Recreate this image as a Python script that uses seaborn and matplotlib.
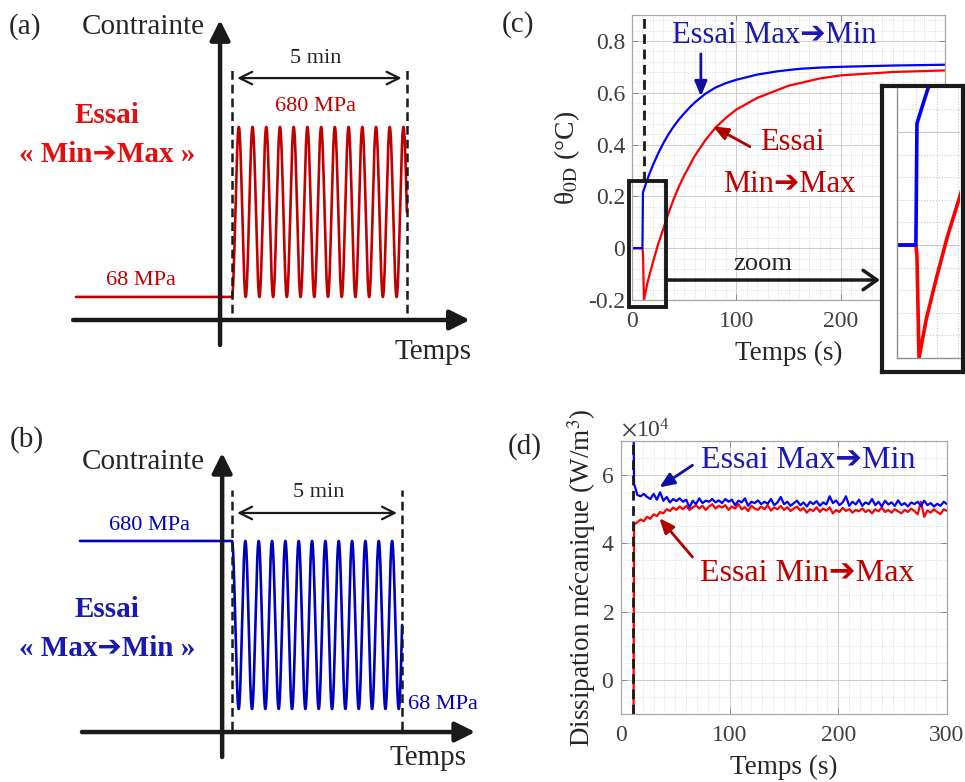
import numpy as np
import matplotlib
matplotlib.use('Agg')
import matplotlib.pyplot as plt
import seaborn as sns
from matplotlib.patches import Rectangle
from matplotlib.ticker import MultipleLocator

# ---------------- data ----------------
# schematic loading (a) / (b)
sig_low = 68        # MPa
sig_high = 680      # MPa
duration = 5        # min
n_cycles = 12.75    # drawn cycles (schematic only)

# (c) mean temperature theta_0D (degC) vs time (s)
t_maxmin_c = [0, 10, 10.5, 13, 16, 20, 25, 30, 35, 40, 45, 50, 55, 60, 70, 80, 90, 100,
              120, 140, 160, 180, 200, 250, 300]
th_maxmin = [0, 0, 0.215, 0.245, 0.28, 0.32, 0.365, 0.405, 0.44, 0.47, 0.497, 0.52, 0.542,
             0.562, 0.595, 0.62, 0.637, 0.65, 0.67, 0.683, 0.692, 0.697, 0.70, 0.705, 0.708]
t_minmax_c = [0, 10, 10.5, 11.5, 15, 20, 25, 30, 35, 40, 45, 50, 60, 70, 80, 90, 100, 120,
              150, 180, 200, 250, 300]
th_minmax = [0, 0, -0.02, -0.2, -0.13, -0.055, 0.015, 0.075, 0.135, 0.19, 0.238, 0.28, 0.355,
             0.415, 0.465, 0.503, 0.535, 0.58, 0.627, 0.655, 0.667, 0.68, 0.686]
c_yticklabels = ['-0.2', '0', '0.2', '0.4', '0.6', '0.8']

# (d) mechanical dissipation (x1e4 W/m3), sampled every 3 s from t = 12 s
t_step = 11.5
t_d = np.arange(12, 301, 3)
d_start_maxmin = 8.0
d_start_minmax = -1.5
d_maxmin = [5.75, 5.42, 5.38, 5.45, 5.36, 5.30, 5.45, 5.28, 5.50, 5.25,
            5.36, 5.20, 5.30, 5.24, 5.32, 5.22, 5.28, 5.05, 5.25, 5.15,
            5.32, 5.18, 5.25, 5.22, 5.30, 5.20, 5.26, 5.18, 5.30, 5.22,
            5.28, 5.12, 5.25, 5.20, 5.32, 5.10, 5.22, 5.18, 5.26, 5.15,
            5.22, 5.16, 5.30, 5.12, 5.20, 5.36, 5.15, 5.22, 5.10, 5.18,
            5.25, 5.12, 5.20, 5.08, 5.22, 5.15, 5.24, 5.10, 5.20, 5.14,
            5.38, 5.18, 5.26, 5.12, 5.20, 5.38, 5.10, 5.22, 5.14, 5.28,
            5.10, 5.20, 5.15, 5.30, 5.12, 5.22, 5.08, 5.25, 5.14, 5.20,
            5.10, 5.26, 5.12, 5.18, 5.08, 5.20, 5.15, 5.22, 5.10, 5.25,
            5.12, 5.18, 5.08, 5.16, 5.10, 5.22, 5.15]
d_minmax = [4.55, 4.62, 4.70, 4.65, 4.78, 4.72, 4.85, 4.80, 4.92, 4.88,
            5.00, 4.95, 5.05, 4.98, 5.08, 5.00, 5.10, 4.98, 5.05, 5.12,
            5.02, 5.10, 4.98, 5.08, 5.15, 5.02, 5.10, 5.05, 5.12, 4.98,
            5.08, 5.02, 5.15, 5.00, 5.06, 4.95, 5.10, 5.02, 4.98, 5.08,
            5.00, 5.12, 4.96, 5.05, 5.00, 5.10, 4.98, 5.06, 4.95, 5.02,
            5.08, 4.96, 5.04, 4.90, 5.00, 4.95, 5.06, 4.92, 5.02, 4.96,
            5.05, 4.88, 4.98, 4.92, 5.04, 4.95, 5.00, 4.90, 4.98, 4.94,
            5.02, 4.92, 4.98, 4.88, 5.00, 4.94, 5.05, 4.92, 4.98, 4.90,
            5.00, 4.94, 4.88, 4.98, 4.92, 5.02, 4.95, 4.85, 5.22, 4.78,
            4.96, 4.90, 5.00, 4.92, 4.86, 5.00, 4.95]

# ---------------- style ----------------
sns.set_theme(style='white')
plt.rcParams['font.family'] = ['Liberation Serif', 'DejaVu Sans']
plt.rcParams['mathtext.fontset'] = 'stix'

RED = '#c00000'
RED_TXT = '#e01010'
BLUE = '#0000c0'
BLUE_TXT = '#1a1ab0'
DASH = (0, (3.5, 2))
ARR = '➔'

W, H = 965, 782
fig = plt.figure(figsize=(W / 100, H / 100), dpi=100)


def px_rect(x0, y0, x1, y1):
    return [x0 / W, 1 - y1 / H, (x1 - x0) / W, (y1 - y0) / H]


axis_arrow = dict(arrowstyle='-|>,head_length=0.6,head_width=0.3', lw=3.2, color='k',
                  mutation_scale=20, shrinkA=0, shrinkB=0)
span_arrow = dict(arrowstyle='<->,head_length=0.5,head_width=0.25', lw=1.6, color='k',
                  mutation_scale=18, shrinkA=0, shrinkB=0)

# schematic signal (sinusoidal loading, drawn shape only)
t_sig = np.linspace(0, duration, 1500)
mid = (sig_low + sig_high) / 2
amp = (sig_high - sig_low) / 2

# ---------------- (a) Min -> Max ----------------
ax_a = fig.add_axes(px_rect(0, 0, 480, 370))
ax_a.set_xlim(-6.63, 7.09)
ax_a.set_ylim(-195, 1137)
ax_a.axis('off')
s_a = mid - amp * np.cos(2 * np.pi * n_cycles * t_sig / duration)
sns.lineplot(x=np.r_[-4.46, 0, t_sig], y=np.r_[sig_low, sig_low, s_a], ax=ax_a,
             color=RED, lw=1.9, sort=False, estimator=None)
ax_a.annotate('', xy=(-0.34, 1065), xytext=(-0.34, -105), arrowprops=axis_arrow)
ax_a.annotate('', xy=(6.8, -15), xytext=(-4.54, -15), arrowprops=axis_arrow)
for tx in (0, duration):
    ax_a.plot([tx, tx], [10, 896], color='k', lw=1.8, ls=DASH)
ax_a.annotate('', xy=(4.85, 856), xytext=(0.15, 856), arrowprops=span_arrow)
ax_a.text(2.4, 928, '5 min', ha='center', va='center', fontsize=16)
ax_a.text(2.4, 752, '680 MPa', ha='center', va='center', fontsize=16, color=RED)
ax_a.text(-2.6, 126, '68 MPa', ha='center', va='center', fontsize=16, color=RED)
ax_a.text(-3.57, 720, 'Essai', ha='center', va='center', fontsize=21, color=RED_TXT, weight='bold')
ax_a.text(-3.57, 579, f'« Min{ARR}Max »', ha='center', va='center', fontsize=21,
          color=RED_TXT, weight='bold')
ax_a.text(-5.92, 1040, '(a)', ha='center', va='center', fontsize=21)
ax_a.text(-2.54, 1040, 'Contrainte', ha='center', va='center', fontsize=21)
ax_a.text(5.74, -130, 'Temps', ha='center', va='center', fontsize=21)

# ---------------- (b) Max -> Min ----------------
ax_b = fig.add_axes(px_rect(0, 390, 480, 782))
ax_b.set_xlim(-6.82, 7.29)
ax_b.set_ylim(-198, 1230)
ax_b.axis('off')
s_b = mid + amp * np.cos(2 * np.pi * n_cycles * t_sig / duration)
sns.lineplot(x=np.r_[-4.47, 0, t_sig], y=np.r_[sig_high, sig_high, s_b], ax=ax_b,
             color=BLUE, lw=1.9, sort=False, estimator=None)
ax_b.annotate('', xy=(-0.29, 1001), xytext=(-0.29, -107), arrowprops=axis_arrow)
ax_b.annotate('', xy=(7.15, -16), xytext=(-4.41, -16), arrowprops=axis_arrow)
for tx in (0, duration):
    ax_b.plot([tx, tx], [-8, 866], color='k', lw=1.8, ls=DASH)
ax_b.annotate('', xy=(4.85, 782), xytext=(0.15, 782), arrowprops=span_arrow)
ax_b.text(2.55, 858, '5 min', ha='center', va='center', fontsize=16)
ax_b.text(-2.44, 738, '680 MPa', ha='center', va='center', fontsize=16, color=BLUE)
ax_b.text(5.18, 83, '68 MPa', ha='left', va='center', fontsize=16, color=BLUE)
ax_b.text(-3.68, 429, 'Essai', ha='center', va='center', fontsize=21, color=BLUE_TXT, weight='bold')
ax_b.text(-3.68, 290, f'« Max{ARR}Min »', ha='center', va='center', fontsize=21,
          color=BLUE_TXT, weight='bold')
ax_b.text(-6.03, 1048, '(b)', ha='center', va='center', fontsize=21)
ax_b.text(-2.62, 968, 'Contrainte', ha='center', va='center', fontsize=21)
ax_b.text(5.76, -110, 'Temps', ha='center', va='center', fontsize=21)


def matlab_axes(ax, xminor, yminor):
    ax.xaxis.set_minor_locator(MultipleLocator(xminor))
    ax.yaxis.set_minor_locator(MultipleLocator(yminor))
    ax.grid(which='major', color='#cfcfcf', lw=0.8, ls='-')
    ax.grid(which='minor', color='#d6d6d6', lw=0.6, ls=':')
    ax.set_axisbelow(True)
    ax.tick_params(which='both', direction='in', colors='#404040', labelsize=17,
                   top=True, right=True, bottom=True, left=True)
    ax.tick_params(which='major', length=4, width=0.6, color='#808080')
    ax.tick_params(which='minor', length=0)
    ax.tick_params(axis='x', pad=8)
    ax.tick_params(axis='y', pad=5)
    for sp in ax.spines.values():
        sp.set_color('#a8a8a8')
        sp.set_linewidth(0.9)


# ---------------- (c) temperature ----------------
ax_c = fig.add_axes(px_rect(632, 15, 945, 300))
sns.lineplot(x=t_minmax_c, y=th_minmax, ax=ax_c, color='#ff0000', lw=1.6, sort=False, estimator=None)
sns.lineplot(x=t_maxmin_c, y=th_maxmin, ax=ax_c, color='#0000ff', lw=1.6, sort=False, estimator=None)
ax_c.plot([t_step, t_step], [0.26, 0.9], color='k', lw=2, ls=DASH, zorder=3)
ax_c.set_xlim(0, 300)
ax_c.set_ylim(-0.2, 0.9)
ax_c.set_xticks([0, 100, 200, 300])
ax_c.set_yticks([-0.2, 0, 0.2, 0.4, 0.6, 0.8])
ax_c.set_yticklabels(c_yticklabels)
matlab_axes(ax_c, 10, 0.04)
ax_c.set_xlabel('Temps (s)', fontsize=19.5, color='#262626', labelpad=6)
ax_c.set_ylabel('θ$_{\\mathrm{0D}}$ (°C)', fontsize=20, color='#262626', labelpad=4)
ax_c.add_patch(Rectangle((-3, -0.228), 36, 0.488, fill=False, lw=2.8, ec='k',
                         clip_on=False, zorder=5))
ax_c.annotate('', xy=(880 / W, 1 - 280 / H), xycoords='figure fraction',
              xytext=(33, -0.123), textcoords='data', annotation_clip=False,
              arrowprops=dict(arrowstyle='->,head_length=0.5,head_width=0.35', lw=2.5,
                              color='k', mutation_scale=20, shrinkA=0, shrinkB=0))
ax_c.text(125, -0.06, 'zoom', ha='center', va='center', fontsize=19)
ax_c.annotate('', xy=(66, 0.586), xytext=(66, 0.75),
              arrowprops=dict(arrowstyle='-|>,head_length=0.6,head_width=0.25', lw=2,
                              color='#1010a0', mutation_scale=15, shrinkA=0, shrinkB=0))
ax_c.annotate('', xy=(77.7, 0.47), xytext=(113, 0.392),
              arrowprops=dict(arrowstyle='-|>,head_length=0.6,head_width=0.25', lw=2,
                              color='#b00000', mutation_scale=15, shrinkA=0, shrinkB=0))
ax_c.text(38.4, 0.82, f'Essai Max{ARR}Min', ha='left', va='center', fontsize=22, color=BLUE_TXT)
ax_c.text(122.7, 0.408, 'Essai', ha='left', va='center', fontsize=22, color=RED)
ax_c.text(87.2, 0.245, f'Min{ARR}Max', ha='left', va='center', fontsize=22, color=RED)
fig.text(518 / W, 1 - 25 / H, '(c)', ha='center', va='center', fontsize=21)

# zoom inset
ax_box = fig.add_axes(px_rect(882, 86, 963, 372))
ax_box.set_zorder(5)
ax_box.set_facecolor('white')
ax_box.set_xticks([])
ax_box.set_yticks([])
for sp in ax_box.spines.values():
    sp.set_color('k')
    sp.set_linewidth(3)

ax_in = fig.add_axes(px_rect(897, 88, 960, 358))
ax_in.set_zorder(6)
ax_in.set_facecolor('none')
sns.lineplot(x=t_minmax_c, y=th_minmax, ax=ax_in, color='#ff0000', lw=2.6, sort=False, estimator=None)
sns.lineplot(x=t_maxmin_c, y=th_maxmin, ax=ax_in, color='#0000ff', lw=2.6, sort=False, estimator=None)
ax_in.set_xlim(1, 31)
ax_in.set_ylim(-0.2, 0.278)
ax_in.set_xticks([10, 20, 30])
ax_in.set_yticks([0, 0.2])
ax_in.yaxis.set_minor_locator(MultipleLocator(0.04))
ax_in.grid(axis='x', which='major', color='#c8c8c8', lw=0.8, ls=':')
ax_in.grid(axis='y', which='major', color='#c8c8c8', lw=0.8, ls='-')
ax_in.grid(axis='y', which='minor', color='#c8c8c8', lw=0.8, ls=':')
ax_in.set_axisbelow(True)
ax_in.tick_params(which='both', length=0, labelleft=False, labelbottom=False)
for side in ('top', 'right'):
    ax_in.spines[side].set_visible(False)
for side in ('left', 'bottom'):
    ax_in.spines[side].set_color('#909090')
    ax_in.spines[side].set_linewidth(1)

# ---------------- (d) dissipation ----------------
ax_d = fig.add_axes(px_rect(621, 441, 947, 714))
sns.lineplot(x=np.r_[t_step, t_d], y=np.r_[d_start_minmax, d_minmax] * 1e4, ax=ax_d,
             color='#ff0000', lw=1.6, sort=False, estimator=None)
sns.lineplot(x=np.r_[t_step, t_d], y=np.r_[d_start_maxmin, d_maxmin] * 1e4, ax=ax_d,
             color='#0000ff', lw=1.6, sort=False, estimator=None)
ax_d.axvline(t_step, color='k', lw=2, ls=DASH, zorder=3)
ax_d.set_xlim(0, 300)
ax_d.set_ylim(-1e4, 7e4)
ax_d.set_xticks([0, 100, 200, 300])
ax_d.set_yticks([0, 2e4, 4e4, 6e4])
ax_d.ticklabel_format(axis='y', style='sci', scilimits=(4, 4), useMathText=True)
matlab_axes(ax_d, 10, 0.5e4)
ax_d.yaxis.get_offset_text().set_fontsize(17)
ax_d.yaxis.get_offset_text().set_color('#404040')
ax_d.set_xlabel('Temps (s)', fontsize=19.5, color='#262626', labelpad=6)
ax_d.set_ylabel('Dissipation mécanique (W/m$^3$)', fontsize=19.5, color='#262626', labelpad=2)
ax_d.annotate('', xy=(35.3, 5.64e4), xytext=(65.8, 6.29e4),
              arrowprops=dict(arrowstyle='-|>,head_length=0.6,head_width=0.25', lw=2,
                              color='#1010a0', mutation_scale=15, shrinkA=0, shrinkB=0))
ax_d.annotate('', xy=(35.3, 4.74e4), xytext=(65.8, 3.6e4),
              arrowprops=dict(arrowstyle='-|>,head_length=0.6,head_width=0.25', lw=2,
                              color='#b00000', mutation_scale=15, shrinkA=0, shrinkB=0))
ax_d.text(74, 6.43e4, f'Essai Max{ARR}Min', ha='left', va='center', fontsize=23, color=BLUE_TXT)
ax_d.text(72.3, 3.13e4, f'Essai Min{ARR}Max', ha='left', va='center', fontsize=23, color=RED)
fig.text(525 / W, 1 - 447 / H, '(d)', ha='center', va='center', fontsize=21)

fig.savefig('out.png', dpi=100)
